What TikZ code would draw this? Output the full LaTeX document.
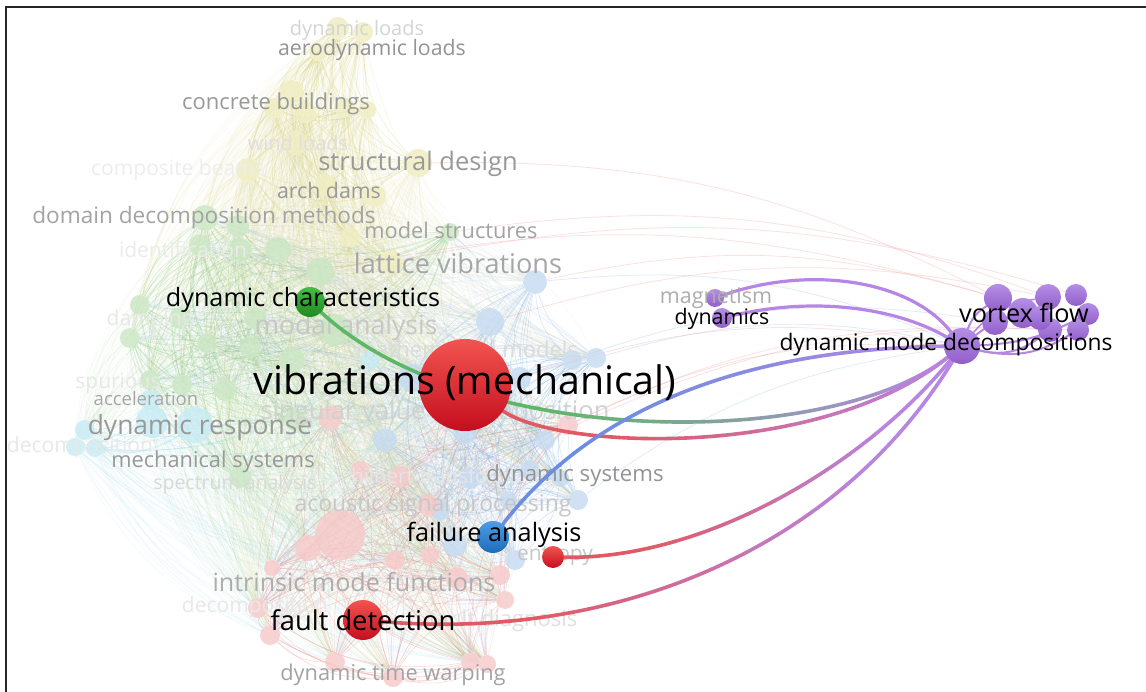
\documentclass[tikz,border=0pt]{standalone}
\usepackage{fontspec}
\setmainfont{Open Sans}
\definecolor{cy}{HTML}{EFEDBE}
\definecolor{cg}{HTML}{C9E6C2}
\definecolor{cc}{HTML}{C6EBF4}
\definecolor{cb}{HTML}{C4DAF0}
\definecolor{cr}{HTML}{F7C8C8}
\definecolor{ey}{HTML}{D9D47A}
\definecolor{eg}{HTML}{8FCC84}
\definecolor{ec}{HTML}{86D6E8}
\definecolor{eb}{HTML}{86B3E2}
\definecolor{er}{HTML}{F08A8A}
\definecolor{hlG}{HTML}{5DB866}
\definecolor{hlR}{HTML}{E05A66}
\definecolor{hlB}{HTML}{6C8EE2}
\definecolor{hlP}{HTML}{B786E4}
\definecolor{pTop}{HTML}{B48EE6}
\definecolor{pBot}{HTML}{915EC9}
\definecolor{rTop}{HTML}{F25450}
\definecolor{rBot}{HTML}{C40E1E}
\definecolor{gTop}{HTML}{45BE45}
\definecolor{gBot}{HTML}{1E8A22}
\definecolor{bTop}{HTML}{4E9CE6}
\definecolor{bBot}{HTML}{1F6DB8}
\newcommand\gradcurve[5]{%
  \begin{scope}\clip (-10,-10) rectangle (#3,700); \draw[hl,draw=#1] #5; \end{scope}
  \begin{scope}\clip (#4,-10) rectangle (1200,700); \draw[hl,draw=#2] #5; \end{scope}
  \foreach \k in {0,...,9}{%
    \pgfmathsetmacro\xa{#3+(#4-#3)*\k/10-0.5}%
    \pgfmathsetmacro\xb{#3+(#4-#3)*(\k+1)/10+0.5}%
    \pgfmathtruncatemacro\pct{95-90*\k/9}%
    \begin{scope}\clip (\xa,-10) rectangle (\xb,700); \draw[hl,draw=#1!\pct!#2] #5; \end{scope}
  }%
}
\def\ylist{y1/338/28/22,y2/363/32/20,y3/318/52/18,y4/292/92/24,y5/274/108/20,
  y6/305/112/22,y7/345/108/20,y8/367/110/18,y9/296/143/24,y10/248/170/24,y11/418/163/28,
  y12/325/185/22,y13/375/196/22,y14/350/237/20,y15/391/262/24}
\def\glist{g1/205/218/26,g2/238/226/22,g3/200/245/22,g4/240/250/24,g5/278/250/26,
  g6/320/272/28,g7/140/305/20,g8/180/318/22,g9/130/338/20,g10/207/343/20,g11/250/347/22,
  g12/292/360/26,g13/335/330/32,g14/150/380/20,g15/182/385/20,g16/225/390/22,g17/295/420/22,
  g18/240/477/22,g19/450/232/18,g20/255/318/22}
\def\clist{c1/85/430/20,c2/75/447/18,c3/95/448/18,c4/152/422/32,c5/195/425/36,
  c6/370/360/20,c7/150/400/20}
\def\blist{b1/535/282/24,b2/490/322/28,b3/572/360/20,b4/596/358/20,b5/412/378/28,
  b6/520/378/22,b7/385/440/24,b8/465/432/24,b9/545/440/20,b10/470/478/22,b11/530/470/20,
  b12/578/500/20,b13/455/545/24,b14/515/560/20,b15/440/510/20,b16/560/478/18,b17/508/500/18}
\def\rlist{r1/330/418/24,r2/568/425/20,r3/340/535/50,r4/308/548/26,r5/400/477/22,
  r6/428/505/22,r7/395/560/20,r8/430/555/18,r9/457/578/22,r10/500/575/20,r11/505/600/18,
  r12/258/608/20,r13/270/635/20,r14/335/662/20,r15/393/677/20,r16/470/662/18,r17/487/664/18,
  r18/360/470/18,r19/272/568/16}
\def\vlist{v1/998/298/28,v2/995/322/26,v3/1023/313/30,v4/1048/297/26,
  v5/1076/295/22,v6/1088/314/22,v7/1050/330/24,v8/1078/330/22,v9/1040/318/24}
\begin{document}
\begin{tikzpicture}[x=1pt,y=-1pt,
  fn/.style={circle,inner sep=0pt,minimum size=#1pt},
  fe/.style={line width=0.6pt,draw opacity=0.3},
  ce/.style={line width=0.5pt,draw opacity=0.1},
  he/.style={line width=0.6pt,draw opacity=0.22},
  hl/.style={line width=3.6pt,line cap=round},
  pl/.style={line width=2.6pt,draw=hlP,line cap=round},
  lab/.style={inner sep=0pt,font=\fontsize{#1}{#1}\selectfont},
]
\useasboundingbox (0,0) rectangle (1146,692);
\fill[white] (0,0) rectangle (1146,692);

% ---------- faint nodes (named) ----------
\foreach \n/\x/\y/\s in \ylist \node[fn=\s] (\n) at (\x,\y) {};
\foreach \n/\x/\y/\s in \glist \node[fn=\s] (\n) at (\x,\y) {};
\foreach \n/\x/\y/\s in \clist \node[fn=\s] (\n) at (\x,\y) {};
\foreach \n/\x/\y/\s in \blist \node[fn=\s] (\n) at (\x,\y) {};
\foreach \n/\x/\y/\s in \rlist \node[fn=\s] (\n) at (\x,\y) {};

% ---------- main nodes ----------
\node[fn=92] (vib) at (465,385) {};
\node[fn=30] (dc) at (310,302) {};
\node[fn=32] (fa) at (493,537) {};
\node[fn=22] (ent) at (553,557) {};
\node[fn=40] (fd) at (363,620) {};
\node[fn=18] (mag) at (715,298) {};
\node[fn=20] (dyn) at (722,318) {};
\node[fn=36] (dmd) at (962,346) {};
\foreach \n/\x/\y/\s in \vlist \node[fn=\s] (\n) at (\x,\y) {};

% ---------- faint edges ----------
\foreach \p/\N in {y/15,g/20,c/7,b/17,r/19}{
  \foreach \i in {1,...,\N}{
    \foreach \j in {1,...,\N}{
      \ifnum\i<\j\relax \draw[fe,draw=e\p] (\p\i) to[bend right=22] (\p\j);\fi
}}}
\foreach \p/\N/\q/\M in {y/15/g/20,g/20/c/7,g/20/r/19,b/17/r/19,b/17/g/20,y/15/r/19,y/15/b/17,c/7/r/19}{
  \foreach \i in {1,...,\N}{
    \foreach \j in {1,...,\M}{
      \draw[ce,draw=e\p] (\p\i) to[bend right=22] (\q\j);
}}}
\foreach \p/\N in {y/15,g/20,c/7,b/17,r/19}{
  \foreach \i in {1,...,\N}{\draw[he,draw=e\p] (\p\i) to[bend right=15] (vib);}}
\foreach \s/\t/\c in {b1/v1/er,b2/v4/er,y11/v1/er,y15/v5/er,g19/v4/er,b3/v2/eb,b4/dmd/eb,
  r2/v7/er,b6/dmd/er,b9/v8/er,b1/dmd/eb,g6/v1/er,b12/dmd/eb,r2/dmd/er}
  \draw[line width=0.8pt,draw=\c,draw opacity=0.25] (\s) to[bend left=14] (\t);

% faint node discs over edges
\foreach \n/\x/\y/\s in \ylist \fill[cy,opacity=0.8] (\n.center) circle (\s/2);
\foreach \n/\x/\y/\s in \glist \fill[cg,opacity=0.8] (\n.center) circle (\s/2);
\foreach \n/\x/\y/\s in \clist \fill[cc,opacity=0.8] (\n.center) circle (\s/2);
\foreach \n/\x/\y/\s in \blist \fill[cb,opacity=0.8] (\n.center) circle (\s/2);
\foreach \n/\x/\y/\s in \rlist \fill[cr,opacity=0.8] (\n.center) circle (\s/2);

% ---------- faint labels ----------
\node[lab=20,text=black!17] (l1) at (357,30) {dynamic loads};
\node[lab=21.3,text=black!42] (l2) at (372,50) {aerodynamic loads};
\node[lab=22,text=black!40] (l3) at (276,104) {concrete buildings};
\node[lab=20,text=black!13] (l4) at (298,143) {wind loads};
\node[lab=21,text=black!7] (l5) at (178,170) {composite beams};
\node[lab=25.5,text=black!40] (l6) at (418,164) {structural design};
\node[lab=21.3,text=black!40] (l7) at (329,191) {arch dams};
\node[lab=22.6,text=black!36] (l8) at (204,218) {domain decomposition methods};
\node[lab=21.8,text=black!36] (l9) at (451,230) {model structures};
\node[lab=21,text=black!8] (l10) at (183,250) {identification};
\node[lab=27.1,text=black!35] (l11) at (458,263) {lattice vibrations};
\node[lab=26.5,text=black!22] (l12) at (346,328) {modal analysis};
\node[lab=21,text=black!9] (l13) at (150,320) {damping};
\node[lab=22,text=black!14] (l14) at (467,349) {mathematical models};
\node[lab=21,text=black!9] (l15) at (118,383) {spurious};
\node[lab=18.5,text=black!35] (l16) at (146,399) {acceleration};
\node[lab=26.4,text=black!40] (l17) at (200,428) {dynamic response};
\node[lab=21,text=black!9] (l18) at (80,447) {decomposition};
\node[lab=25.5,text=black!18] (l19) at (435,413) {singular value decomposition};
\node[lab=21.8,text=black!40] (l20) at (213,462) {mechanical systems};
\node[lab=19.5,text=black!15] (l21) at (235,484) {spectrum analysis};
\node[lab=20.5,text=black!10] (l22) at (433,476) {hilbert transform};
\node[lab=22.2,text=black!42] (l23) at (575,476) {dynamic systems};
\node[lab=23,text=black!22] (l24) at (433,506) {acoustic signal processing};
\node[lab=21,text=black!22] (l25) at (555,556) {entropy};
\node[lab=25.1,text=black!32] (l26) at (354,582) {intrinsic mode functions};
\node[lab=21,text=black!9] (l27) at (255,607) {decomposition};
\node[lab=22,text=black!12] (l28) at (503,621) {fault diagnosis};
\node[lab=21.8,text=black!36] (l29) at (393,675) {dynamic time warping};

% ---------- highlighted links ----------
\gradcurve{hlG}{hlP}{540}{960}{(dc) .. controls (470,450) and (830,450) .. (dmd)}
\gradcurve{hlR}{hlP}{620}{960}{(vib) .. controls (560,450) and (820,460) .. (dmd)}
\gradcurve{hlB}{hlP}{600}{960}{(fa) .. controls (560,450) and (680,350) .. (dmd)}
\gradcurve{hlR}{hlP}{650}{900}{(ent) .. controls (700,560) and (860,470) .. (dmd)}
\gradcurve{hlR}{hlP}{540}{880}{(fd) .. controls (600,640) and (830,560) .. (dmd)}
\draw[pl,line width=3.2pt] (mag) .. controls (810,265) and (910,280) .. (dmd);
\draw[pl,line width=3.2pt] (dyn) .. controls (820,295) and (900,310) .. (dmd);
\draw[pl,line width=2pt] (dmd) to[bend right=25] (v7);
\draw[pl,line width=2pt] (dmd) to[bend right=22] (v8);
\draw[pl,line width=2pt] (dmd) to[bend right=12] (v6);
\draw[pl,line width=2pt] (dmd) to[bend left=18] (v1);
\draw[pl,line width=2pt] (dmd) to[bend left=10] (v3);
\draw[pl,line width=1.6pt] (dmd) to[bend left=20] (v4);

% ---------- main node fills ----------
\shade[top color=rTop,bottom color=rBot] (vib.center) circle (46);
\shade[top color=gTop,bottom color=gBot] (dc.center) circle (15);
\shade[top color=bTop,bottom color=bBot] (fa.center) circle (16);
\shade[top color=rTop,bottom color=rBot] (ent.center) circle (11);
\shade[top color=rTop,bottom color=rBot] (fd.center) circle (20);
\shade[top color=pTop,bottom color=pBot] (mag.center) circle (9);
\shade[top color=pTop,bottom color=pBot] (dyn.center) circle (10);
\shade[top color=pTop,bottom color=pBot] (dmd.center) circle (18);
\foreach \n/\x/\y/\s in \vlist \shade[top color=pTop,bottom color=pBot] (\n.center) circle (\s/2);

% ---------- labels ----------
\node[lab=21.5,text=black!32] (lmag) at (716,298) {magnetism};
\node[lab=39.3] (lvib) at (465,383) {vibrations (mechanical)};
\node[lab=25.2] (ldc) at (303,300) {dynamic characteristics};
\node[lab=25.3] (lfa) at (494,535) {failure analysis};
\node[lab=27.3] (lfd) at (363,620) {fault detection};
\node[lab=21.4] (ldyn) at (722,319) {dynamics};
\node[lab=22.8] (ldmd) at (946,345) {dynamic mode decompositions};
\node[lab=25.2] (lvf) at (1024,313) {vortex flow};

% ---------- frame ----------
\coordinate (fbl) at (6,692);
\coordinate (ftl) at (6,7);
\coordinate (ftr) at (1146,7);
\draw[line width=2.2pt,black!85] (fbl) -- (ftl) -- (ftr);
\end{tikzpicture}
\end{document}
